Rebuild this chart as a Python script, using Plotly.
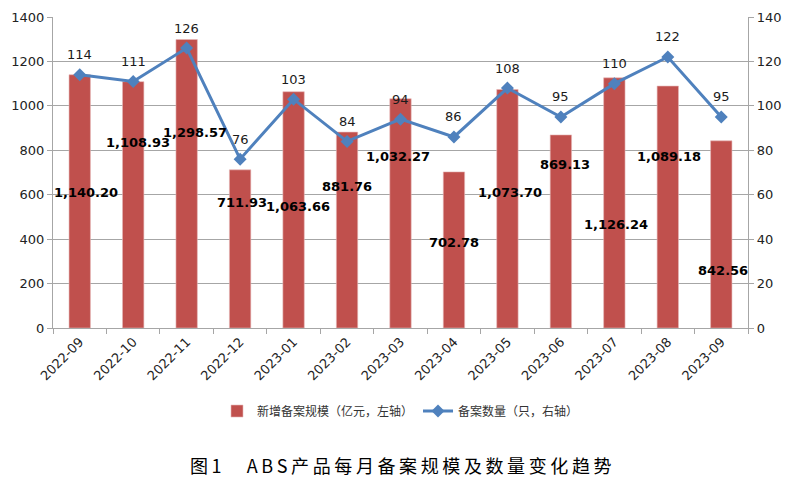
import plotly.graph_objects as go

months = ["2022-09", "2022-10", "2022-11", "2022-12", "2023-01", "2023-02", "2023-03",
          "2023-04", "2023-05", "2023-06", "2023-07", "2023-08", "2023-09"]
scale = [1140.20, 1108.93, 1298.57, 711.93, 1063.66, 881.76, 1032.27,
         702.78, 1073.70, 869.13, 1126.24, 1089.18, 842.56]
count = [114, 111, 126, 76, 103, 84, 94, 86, 108, 95, 110, 122, 95]

# where the (oddly placed) bar value labels sit, in left-axis units, plus small x shifts in px
label_y = [608, 833, 882, 567, 545, 635, 774, 387, 608, 734, 468, 770, 261]
label_dx = [6, 5, 8, 2, 4, 0, -3, 0, 3, 4, 2, 1, 2]

BAR = "#C0504D"
LINE = "#4F81BD"
GRID = "#A6A6A6"
FONT = "DejaVu Sans"

fig = go.Figure()
fig.add_trace(go.Bar(
    x=months, y=scale, name="新增备案规模（亿元，左轴）",
    marker=dict(color=BAR, line=dict(color="#E6B9B8", width=0.6)),
    yaxis="y",
))
fig.add_trace(go.Scatter(
    x=months, y=count, name="备案数量（只，右轴）", yaxis="y2",
    mode="lines+markers",
    line=dict(color=LINE, width=3),
    marker=dict(symbol="diamond", size=10, color=LINE),
))

for m, v in zip(months, count):
    fig.add_annotation(x=m, y=v, xref="x", yref="y2", text=str(v), showarrow=False,
                       yshift=20, font=dict(family=FONT, size=13, color="#1a1a1a"))

for m, v, ly, dx in zip(months, scale, label_y, label_dx):
    fig.add_annotation(x=m, y=ly, xref="x", yref="y", text=f"<b>{v:,.2f}</b>",
                       showarrow=False, xshift=dx,
                       font=dict(family=FONT, size=13, color="#000000"))

title = "图1\u2003ABS产品每月备案规模及数量变化趋势"
title_spaced = "\u2009".join(list(title))
fig.add_annotation(x=0.5, y=-0.44, xref="paper", yref="paper", text=title_spaced,
                   showarrow=False, xanchor="center", yanchor="middle",
                   font=dict(family="Noto Sans CJK SC", size=18, color="#000000"))

fig.update_layout(
    width=797, height=485,
    margin=dict(l=53, r=49, t=17, b=157, autoexpand=False),
    paper_bgcolor="white", plot_bgcolor="white",
    bargap=0.6,
    showlegend=True,
    legend=dict(orientation="h", x=0.5, xanchor="center", y=-0.267, yanchor="middle",
                font=dict(family="Noto Sans CJK SC", size=12, color="#333333"),
                itemwidth=30, traceorder="normal"),
    font=dict(family=FONT, size=13, color="#222222"),
    xaxis=dict(type="category", tickangle=-45, tickson="boundaries", automargin=False,
               range=[-0.5, len(months) - 0.5],
               showline=True, linecolor=GRID, linewidth=1.3,
               ticks="outside", ticklen=5, tickcolor=GRID,
               tickfont=dict(family=FONT, size=13, color="#222222")),
    yaxis=dict(range=[0, 1400], dtick=200, showgrid=True, gridcolor=GRID, gridwidth=1.2,
               showline=True, linecolor=GRID, linewidth=1.3, ticks="outside", ticklen=5,
               tickcolor=GRID, zeroline=False, automargin=False,
               tickfont=dict(family=FONT, size=13, color="#222222")),
    yaxis2=dict(range=[0, 140], dtick=20, overlaying="y", side="right", showgrid=False,
                showline=True, linecolor=GRID, linewidth=1.3, ticks="outside", ticklen=5,
                tickcolor=GRID, zeroline=False, automargin=False,
                tickfont=dict(family=FONT, size=13, color="#222222")),
)

fig.write_html("out.html")
